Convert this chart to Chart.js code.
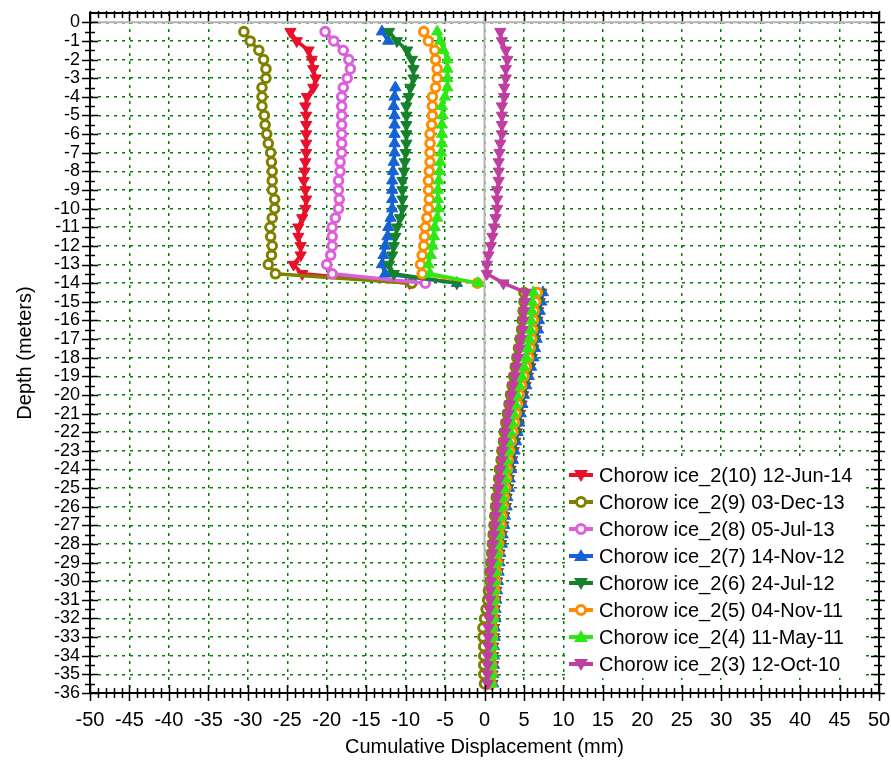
<!DOCTYPE html>
<html>
<head>
<meta charset="utf-8">
<script src="https://cdn.jsdelivr.net/npm/chart.js@4.4.0/dist/chart.umd.min.js"></script>
<style>
    html, body { margin: 0; padding: 0; background: #fff; }
    #wrap { width: 891px; height: 762px; }
</style>
</head>
<body>
<div id="wrap"><canvas id="myChart"></canvas></div>
<script>
const depths = [
    -0.5, -1, -1.5, -2, -2.5, -3, -3.5, -4, -4.5, -5, -5.5, -6, -6.5, -7, -7.5, -8, -8.5, -9, -9.5, -10,
    -10.5, -11, -11.5, -12, -12.5, -13, -13.5, -14, -14.5, -15, -15.5, -16, -16.5, -17, -17.5, -18, -18.5,
    -19, -19.5, -20, -20.5, -21, -21.5, -22, -22.5, -23, -23.5, -24, -24.5, -25, -25.5, -26, -26.5, -27,
    -27.5, -28, -28.5, -29, -29.5, -30, -30.5, -31, -31.5, -32, -32.5, -33, -33.5, -34, -34.5, -35, -35.5
];

const seriesNames = [
    "Chorow ice_2(10) 12-Jun-14",
    "Chorow ice_2(9) 03-Dec-13",
    "Chorow ice_2(8) 05-Jul-13",
    "Chorow ice_2(7) 14-Nov-12",
    "Chorow ice_2(6) 24-Jul-12",
    "Chorow ice_2(5) 04-Nov-11",
    "Chorow ice_2(4) 11-May-11",
    "Chorow ice_2(3) 12-Oct-10",
];

// cumulative displacement (mm), one value per depth above
const disp10 = [
    -24.6, -23.8, -22.3, -21.9, -21.7, -21.4, -21.7, -22.5, -22.7, -22.6, -22.6, -22.6, -22.6, -22.6,
    -22.7, -22.8, -22.9, -22.7, -22.6, -22.7, -23.1, -23.6, -23.6, -23.3, -23.3, -24.2, -23.1, -9.5,
    7.2, 7.0, 6.8, 6.7, 6.6, 6.4, 6.2, 6.0, 5.8, 5.5, 5.2, 4.9, 4.7, 4.5, 4.3, 4.1, 3.9, 3.7, 3.5, 3.3,
    3.1, 3.0, 2.8, 2.7, 2.5, 2.4, 2.2, 2.1, 1.9, 1.8, 1.7, 1.6, 1.5, 1.4, 1.3, 1.3, 1.2, 1.2, 1.1, 1.1, 1.1, 1.0, 1.0
];
const disp9 = [
    -30.5, -29.7, -28.6, -28.0, -27.7, -27.7, -28.2, -28.2, -28.2, -27.9, -27.8, -27.6, -27.4, -27.1,
    -27.0, -26.9, -26.9, -26.9, -26.6, -26.6, -26.9, -27.2, -27.1, -26.9, -27.0, -27.4, -26.5, -9.2,
    5.0, 5.0, 4.9, 4.8, 4.7, 4.5, 4.3, 4.1, 3.9, 3.7, 3.5, 3.3, 3.1, 2.9, 2.7, 2.5, 2.4, 2.2, 2.1, 1.9,
    1.8, 1.7, 1.5, 1.4, 1.3, 1.2, 1.1, 1.0, 0.9, 0.8, 0.7, 0.7, 0.5, 0.4, 0.2, 0.0, -0.2, -0.2, -0.1, -0.1, -0.1, -0.1, 0.0
];
const disp8 = [
    -20.2, -19.1, -17.9, -17.2, -17.0, -17.4, -17.9, -18.1, -18.1, -18.1, -18.1, -18.1, -18.1, -18.1,
    -18.3, -18.3, -18.5, -18.5, -18.4, -18.5, -18.9, -19.3, -19.3, -19.3, -19.5, -20.0, -19.3, -7.5,
    6.6, 6.4, 6.2, 6.1, 6.0, 5.8, 5.6, 5.4, 5.1, 4.8, 4.5, 4.2, 4.0, 3.8, 3.6, 3.4, 3.2, 3.0, 2.9, 2.7,
    2.6, 2.5, 2.3, 2.2, 2.0, 1.9, 1.8, 1.7, 1.5, 1.4, 1.3, 1.2, 1.1, 1.0, 1.0, 0.9, 0.9, 0.8, 0.8, 0.8, 0.8, 0.7, 0.7
];
const disp7 = [
    -13.0, -12.2, null, null, null, null, -11.3, -11.4, -11.5, -11.4, -11.4, -11.4, -11.4, -11.4,
    -11.5, -11.6, -11.7, -11.7, -11.7, -11.7, -11.9, -12.2, -12.3, -12.6, -12.8, -13.0, -12.6, -3.5,
    7.4, 7.2, 7.0, 6.9, 6.8, 6.6, 6.4, 6.2, 5.9, 5.6, 5.3, 5.0, 4.8, 4.6, 4.4, 4.2, 4.0, 3.8, 3.6, 3.4,
    3.2, 3.1, 2.9, 2.8, 2.6, 2.5, 2.3, 2.2, 2.0, 1.9, 1.8, 1.7, 1.6, 1.5, 1.4, 1.4, 1.3, 1.3, 1.2, 1.2, 1.2, 1.1, 1.1
];
const disp6 = [
    -12.1, -11.1, -9.8, -9.2, -9.0, -9.0, -9.4, -9.6, -9.9, -9.9, -9.9, -9.9, -9.9, -10.0,
    -10.1, -10.2, -10.4, -10.4, -10.4, -10.4, -10.7, -11.1, -11.3, -11.5, -11.7, -12.1, -11.5, -3.5,
    7.0, 6.8, 6.6, 6.5, 6.4, 6.3, 6.1, 5.9, 5.6, 5.3, 5.0, 4.7, 4.5, 4.3, 4.1, 3.9, 3.7, 3.5, 3.3, 3.1,
    3.0, 2.9, 2.7, 2.6, 2.4, 2.3, 2.1, 2.0, 1.8, 1.7, 1.6, 1.5, 1.4, 1.3, 1.2, 1.2, 1.1, 1.1, 1.0, 1.0, 1.0, 1.0, 0.9
];
const disp5 = [
    -7.7, -7.1, -6.3, -6.2, -6.0, -6.0, -6.2, -6.6, -6.6, -6.6, -6.7, -6.9, -6.9, -6.9,
    -6.9, -7.0, -7.1, -7.1, -7.0, -7.1, -7.3, -7.5, -7.6, -7.7, -7.9, -8.1, -7.9, -0.9,
    6.7, 6.5, 6.3, 6.2, 6.1, 6.0, 5.8, 5.6, 5.3, 5.0, 4.7, 4.4, 4.2, 4.0, 3.8, 3.6, 3.4, 3.2, 3.0, 2.9,
    2.8, 2.7, 2.5, 2.4, 2.2, 2.1, 1.9, 1.8, 1.7, 1.6, 1.5, 1.4, 1.3, 1.2, 1.1, 1.1, 1.0, 1.0, 0.9, 0.9, 0.9, 0.9, 0.8
];
const disp4 = [
    -6.0, -5.6, -5.2, -4.7, -4.7, -4.7, -4.7, -5.0, -5.4, -5.3, -5.4, -5.4, -5.4, -5.5,
    -5.6, -5.7, -5.8, -5.9, -5.9, -5.8, -6.0, -6.3, -6.4, -6.6, -6.8, -7.1, -6.9, -0.8,
    6.2, 6.0, 6.0, 5.9, 5.8, 5.7, 5.5, 5.3, 5.0, 4.7, 4.4, 4.1, 3.9, 3.7, 3.5, 3.3, 3.1, 3.0, 2.8, 2.7,
    2.6, 2.5, 2.3, 2.2, 2.0, 1.9, 1.8, 1.7, 1.6, 1.5, 1.4, 1.3, 1.2, 1.2, 1.1, 1.1, 1.0, 1.0, 1.0, 1.0, 0.9, 0.9, 0.9
];
const disp3 = [
    2.0, 2.2, 2.7, 2.9, 2.7, 2.7, 2.5, 2.5, 2.2, 2.2, 2.2, 2.2, 2.0, 1.9,
    1.8, 1.8, 1.8, 1.6, 1.6, 1.6, 1.4, 1.2, 1.0, 0.8, 0.5, 0.3, 0.3, 2.4,
    5.2, 5.1, 5.0, 4.9, 4.8, 4.6, 4.4, 4.2, 4.0, 3.8, 3.6, 3.4, 3.2, 3.0, 2.8, 2.6, 2.5, 2.3, 2.2, 2.0,
    1.9, 1.8, 1.6, 1.5, 1.4, 1.3, 1.2, 1.1, 1.0, 0.9, 0.8, 0.8, 0.7, 0.7, 0.6, 0.6, 0.5, 0.5, 0.5, 0.4, 0.4, 0.4, 0.4
];

const allSeries = [disp10, disp9, disp8, disp7, disp6, disp5, disp4, disp3];
const colors = ["#e8102a", "#808000", "#de5fdb", "#1462d6", "#15812b", "#ff8c00", "#2ee815", "#c03ea0"];
const markers = ["down", "circle", "circle", "up", "down", "circle", "up", "down"];
// the jump from the upper to the lower part is hidden in the original, except for the last survey
const showJump = [false, false, false, false, false, false, false, true];

Chart.defaults.font.family = "'Liberation Sans', Arial, sans-serif";
Chart.defaults.color = "#000";

const datasets = allSeries.map((vals, i) => ({
    label: seriesNames[i],
    data: depths.map((d, j) => ({ x: vals[j], y: d })),
    borderColor: colors[i],
    borderWidth: 3.5,
    backgroundColor: markers[i] === "circle" ? "#fff" : colors[i],
    pointBorderColor: colors[i],
    pointBackgroundColor: markers[i] === "circle" ? "#fff" : colors[i],
    pointStyle: markers[i] === "circle" ? "circle" : "triangle",
    pointRotation: markers[i] === "down" ? 180 : 0,
    pointRadius: markers[i] === "circle" ? 4.3 : 6.5,
    pointBorderWidth: markers[i] === "circle" ? 3 : 1,
    tension: 0,
    fill: false,
    order: 7 - i,
    segment: {
        borderColor: (ctx) => (ctx.p0DataIndex === 27 && !showJump[i] ? "rgba(0,0,0,0)" : undefined),
    },
}));

function drawMarker(ctx, kind, x, y, color) {
    ctx.beginPath();
    if (kind === "circle") {
        ctx.arc(x, y, 4.5, 0, Math.PI * 2);
        ctx.fillStyle = "#fff";
        ctx.fill();
        ctx.lineWidth = 3;
        ctx.strokeStyle = color;
        ctx.stroke();
        return;
    }
    const s = kind === "down" ? 1 : -1;
    ctx.moveTo(x - 7, y - 5 * s);
    ctx.lineTo(x + 7, y - 5 * s);
    ctx.lineTo(x, y + 7 * s);
    ctx.closePath();
    ctx.fillStyle = color;
    ctx.fill();
}

const axisFrame = {
    id: "axisFrame",
    beforeDatasetsDraw(chart) {
        const { ctx, chartArea: a, scales } = chart;
        const x0 = scales.x.getPixelForValue(0);
        const y0 = scales.y.getPixelForValue(0);
        ctx.save();
        ctx.strokeStyle = "#b4b4b4";
        ctx.lineWidth = 2;
        ctx.beginPath();
        ctx.moveTo(x0, a.top);
        ctx.lineTo(x0, a.bottom);
        ctx.moveTo(a.left, y0);
        ctx.lineTo(a.right, y0);
        ctx.stroke();
        ctx.restore();
    },
    afterDatasetsDraw(chart) {
        const { ctx, chartArea: a, scales } = chart;
        ctx.save();
        ctx.strokeStyle = "#000";
        ctx.lineWidth = 2;
        ctx.strokeRect(a.left, a.top, a.right - a.left, a.bottom - a.top);
        ctx.lineWidth = 1.5;
        ctx.beginPath();
        for (let v = -50; v <= 50; v++) {
            const px = Math.round(scales.x.getPixelForValue(v)) + 0.5;
            const len = v % 5 === 0 ? 8 : 5;
            ctx.moveTo(px, a.bottom - len);
            ctx.lineTo(px, a.bottom + len);
            ctx.moveTo(px, a.top - 2);
            ctx.lineTo(px, a.top + len);
        }
        for (let v = -36; v <= 0; v += 0.5) {
            const py = Math.round(scales.y.getPixelForValue(v)) + 0.5;
            const len = Number.isInteger(v) ? 8 : 5;
            ctx.moveTo(a.left - len, py);
            ctx.lineTo(a.left + len, py);
            ctx.moveTo(a.right - len, py);
            ctx.lineTo(a.right + len - 2, py);
        }
        ctx.stroke();
        ctx.restore();
    },
    afterDraw(chart) {
        const { ctx } = chart;
        const left = 566, top = 461;
        ctx.save();
        ctx.fillStyle = "#fff";
        ctx.fillRect(left, top, 300, 217);
        ctx.font = "20px 'Liberation Sans', Arial, sans-serif";
        ctx.textBaseline = "middle";
        seriesNames.forEach((name, i) => {
            const y = 475 + i * 27;
            ctx.strokeStyle = colors[i];
            ctx.lineWidth = 4;
            ctx.beginPath();
            ctx.moveTo(569, y);
            ctx.lineTo(593, y);
            ctx.stroke();
            drawMarker(ctx, markers[i], 581, y, colors[i]);
            ctx.fillStyle = "#000";
            ctx.fillText(name, 599, y + 1);
        });
        ctx.restore();
    },
};

const config = {
    type: "line",
    data: { datasets: datasets },
    options: {
        responsive: true,
        maintainAspectRatio: false,
        animation: false,
        layout: {
            padding: { left: 6, right: 12, top: 13, bottom: 1 },
        },
        plugins: {
            legend: { display: false },
            tooltip: { enabled: false },
        },
        scales: {
            x: {
                type: "linear",
                min: -50,
                max: 50,
                afterFit: (scale) => {
                    scale.height = 68;
                    scale.paddingLeft = 0;
                    scale.paddingRight = 0;
                },
                ticks: {
                    stepSize: 5,
                    autoSkip: false,
                    maxRotation: 0,
                    padding: 15,
                    color: "#000",
                    font: { size: 20 },
                },
                grid: { color: "#008000", lineWidth: 1.5, drawTicks: false },
                border: { display: false, dash: [3, 5] },
                title: {
                    display: true,
                    text: "Cumulative Displacement (mm)",
                    color: "#000",
                    font: { size: 20 },
                    padding: { top: 4, bottom: 2 },
                },
            },
            y: {
                type: "linear",
                min: -36,
                max: 0.5,
                afterFit: (scale) => {
                    scale.width = 84;
                    scale.paddingTop = 0;
                    scale.paddingBottom = 0;
                },
                ticks: {
                    stepSize: 1,
                    autoSkip: false,
                    includeBounds: false,
                    padding: 10,
                    color: "#000",
                    font: { size: 18 },
                },
                grid: { color: "#008000", lineWidth: 1.5, drawTicks: false },
                border: { display: false, dash: [3, 5] },
                title: {
                    display: true,
                    text: "Depth (meters)",
                    color: "#000",
                    font: { size: 20 },
                    padding: { top: 7, bottom: 7 },
                },
            },
        },
    },
    plugins: [axisFrame],
};

const myChart = new Chart(document.getElementById("myChart").getContext("2d"), config);
</script>
</body>
</html>
